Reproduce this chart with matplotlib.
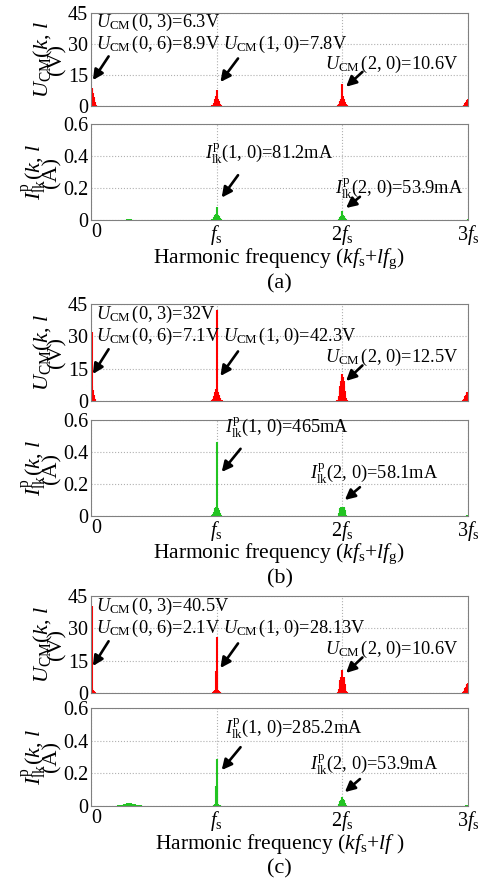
import numpy as np
import matplotlib
import matplotlib.pyplot as plt

matplotlib.use('Agg')
plt.rcParams['font.family'] = ['Liberation Serif', 'DejaVu Serif']
plt.rcParams['mathtext.fontset'] = 'custom'
plt.rcParams['mathtext.rm'] = 'Liberation Serif'
plt.rcParams['mathtext.it'] = 'Liberation Serif:italic'
plt.rcParams['mathtext.bf'] = 'Liberation Serif:bold'

ratio = 200  # fs / fg
side_l = list(range(-8, 9))   # sidebands around k*fs
dc_l = list(range(1, 9))      # baseband lines l*fg
low_l = list(range(40, 84, 3))

# ---- case (a)
ua_dc = [8.9, 8.0, 6.3, 4.5, 3.0, 2.0, 1.2, 0.6]
ua_k1 = [0.2, 0.4, 0.7, 1.1, 1.6, 2.4, 3.4, 4.6, 7.8, 4.6, 3.4, 2.4, 1.6, 1.1, 0.7, 0.4, 0.2]
ua_k2 = [0.2, 0.4, 0.8, 1.2, 1.8, 2.6, 3.6, 5.0, 10.6, 5.0, 3.6, 2.6, 1.8, 1.2, 0.8, 0.4, 0.2]
ua_k3 = [0.2, 0.4, 0.7, 1.0, 1.4, 2.0, 2.6, 3.0, 3.5, 3.0, 2.6, 2.0, 1.4, 1.0, 0.7, 0.4, 0.2]
ia_low = [0.0005, 0.001, 0.0015, 0.002, 0.0025, 0.003, 0.0035, 0.004, 0.0035, 0.003, 0.0025, 0.002, 0.0015, 0.001, 0.0005]
ia_k1 = [0.002, 0.004, 0.007, 0.011, 0.016, 0.022, 0.030, 0.040, 0.081, 0.040, 0.030, 0.022, 0.016, 0.011, 0.007, 0.004, 0.002]
ia_k2 = [0.002, 0.003, 0.005, 0.008, 0.012, 0.016, 0.022, 0.030, 0.054, 0.030, 0.022, 0.016, 0.012, 0.008, 0.005, 0.003, 0.002]
ia_k3 = [0.0, 0.0, 0.001, 0.001, 0.002, 0.002, 0.003, 0.003, 0.004, 0.003, 0.003, 0.002, 0.002, 0.001, 0.001, 0.0, 0.0]

# ---- case (b)
ub_dc = [32.0, 7.1, 5.0, 3.0, 1.5, 0.8, 0.4, 0.2]
ub_k1 = [0.3, 0.6, 1.0, 1.5, 2.2, 3.0, 4.0, 5.5, 42.3, 5.5, 4.0, 3.0, 2.2, 1.5, 1.0, 0.6, 0.3]
ub_k2 = [0.3, 0.6, 1.2, 2.5, 4.5, 7.0, 9.5, 11.0, 12.5, 11.0, 9.5, 7.0, 4.5, 2.5, 1.2, 0.6, 0.3]
ub_k3 = [0.3, 0.6, 1.0, 1.5, 2.2, 3.0, 3.6, 4.0, 4.3, 4.0, 3.6, 3.0, 2.2, 1.5, 1.0, 0.6, 0.3]
ib_low = [0.0005, 0.001, 0.0015, 0.002, 0.0025, 0.003, 0.003, 0.003, 0.003, 0.003, 0.0025, 0.002, 0.0015, 0.001, 0.0005]
ib_k1 = [0.002, 0.005, 0.010, 0.018, 0.028, 0.040, 0.050, 0.055, 0.465, 0.055, 0.050, 0.040, 0.028, 0.018, 0.010, 0.005, 0.002]
ib_k2 = [0.001, 0.003, 0.008, 0.020, 0.035, 0.048, 0.054, 0.056, 0.058, 0.056, 0.054, 0.048, 0.035, 0.020, 0.008, 0.003, 0.001]
ib_k3 = [0.0, 0.0, 0.001, 0.001, 0.002, 0.003, 0.003, 0.004, 0.004, 0.004, 0.003, 0.003, 0.002, 0.001, 0.001, 0.0, 0.0]

# ---- case (c)
uc_dc = [40.5, 2.1, 1.5, 1.0, 0.6, 0.4, 0.2, 0.1]
uc_k1 = [0.1, 0.2, 0.3, 0.5, 0.7, 1.0, 1.5, 10.0, 26.0, 10.0, 1.5, 1.0, 0.7, 0.5, 0.3, 0.2, 0.1]
uc_k2 = [0.2, 0.4, 0.9, 2.0, 4.0, 6.0, 7.2, 7.6, 10.6, 7.6, 7.2, 6.0, 4.0, 2.0, 0.9, 0.4, 0.2]
uc_k3 = [0.3, 0.6, 1.0, 1.6, 2.3, 3.0, 3.8, 4.3, 4.6, 4.3, 3.8, 3.0, 2.3, 1.6, 1.0, 0.6, 0.3]
ic_low = [0.002, 0.004, 0.006, 0.009, 0.012, 0.015, 0.018, 0.020, 0.018, 0.015, 0.012, 0.009, 0.006, 0.004, 0.002]
ic_k1 = [0.001, 0.002, 0.003, 0.004, 0.006, 0.008, 0.012, 0.120, 0.285, 0.120, 0.012, 0.008, 0.006, 0.004, 0.003, 0.002, 0.001]
ic_k2 = [0.001, 0.003, 0.006, 0.012, 0.020, 0.030, 0.038, 0.042, 0.054, 0.042, 0.038, 0.030, 0.020, 0.012, 0.006, 0.003, 0.001]
ic_k3 = [0.0, 0.001, 0.001, 0.002, 0.003, 0.004, 0.005, 0.005, 0.006, 0.005, 0.005, 0.004, 0.003, 0.002, 0.001, 0.001, 0.0]

u_ticks = [0, 15, 30, 45]
i_ticks = [0, 0.2, 0.4, 0.6]
x_ticks = [0, 1, 2, 3]
x_ticklabels = ['0', r'$f_{\mathrm{s}}$', r'$2f_{\mathrm{s}}$', r'$3f_{\mathrm{s}}$']

RED = '#ff0000'
GREEN = '#22c422'

W, H = 482, 884
fig = plt.figure(figsize=(W / 100, H / 100), dpi=100)


def add_ax(top, bottom):
    return fig.add_axes([91 / W, 1 - bottom / H, 377 / W, (bottom - top) / H])


def spectrum(dc, k1, k2, k3, low=None):
    f, a = [], []
    for l, v in zip(dc_l, dc):
        f.append(l / ratio); a.append(v)
    if low is not None:
        for l, v in zip(low_l, low):
            f.append(l / ratio); a.append(v)
    for k, arr in ((1, k1), (2, k2), (3, k3)):
        for l, v in zip(side_l, arr):
            f.append(k + l / ratio); a.append(v)
    return np.array(f), np.array(a)


def style(ax, ticks, ylim, ylabel, bottom_axis):
    ax.set_xlim(0, 3)
    ax.set_ylim(*ylim)
    ax.set_xticks(x_ticks)
    ax.set_yticks(ticks)
    ax.set_yticklabels([('%g' % t) for t in ticks])
    ax.grid(True, color='#b0b0b0', linestyle=':', linewidth=0.8)
    ax.set_axisbelow(True)
    for s in ax.spines.values():
        s.set_color('#808080')
        s.set_linewidth(0.8)
    ax.tick_params(length=0, labelsize=14.5, pad=2)
    ax.tick_params(axis='x', pad=2.5)
    if bottom_axis:
        ax.set_xticklabels(x_ticklabels)
        ax.get_xticklabels()[0].set_ha('left')
    else:
        ax.set_xticklabels([])
    ax.set_ylabel(ylabel, fontsize=16, linespacing=0.5, labelpad=1)


def arrow(ax, tail, tip):
    ax.annotate('', xy=tip, xytext=tail,
                arrowprops=dict(arrowstyle='-|>', color='k', lw=1.9, mutation_scale=15,
                                shrinkA=0, shrinkB=0))


u_lab = '$U_{\\mathrm{CM}}(k$, $l$\n(V)'
i_lab = '$I_{\\mathrm{lk}}^{\\mathrm{p}}(k$, $l$\n(A)'
ucm = r'$U_{\mathrm{CM}}\,$'
ilk = r'$I_{\mathrm{lk}}^{\mathrm{p}}$'
ann_fs = 13.2
x_mid = 0.5 * (91 + 468) / W

cases = [
    dict(px=(13, 106, 124, 220), u=(ua_dc, ua_k1, ua_k2, ua_k3), i=(ia_low, ia_k1, ia_k2, ia_k3),
         u_txt=['(0, 3)=6.3V', '(0, 6)=8.9V', '(1, 0)=7.8V', '(2, 0)=10.6V'],
         i_txt=['(1, 0)=81.2mA', '(2, 0)=53.9mA'],
         i_pos=[(0.91, 0.42), (1.94, 0.2)], i_arr=[((1.17, 0.28), (1.04, 0.14)), ((2.14, 0.145), (2.03, 0.075))],
         xlab=r'Harmonic frequency ($kf_{\mathrm{s}}$+$lf_{\mathrm{g}}$)', xlab_y=259, tag='(a)', tag_y=284),
    dict(px=(304, 401, 420, 516), u=(ub_dc, ub_k1, ub_k2, ub_k3), i=(ib_low, ib_k1, ib_k2, ib_k3),
         u_txt=['(0, 3)=32V', '(0, 6)=7.1V', '(1, 0)=42.3V', '(2, 0)=12.5V'],
         i_txt=['(1, 0)=465mA', '(2, 0)=58.1mA'],
         i_pos=[(1.07, 0.556), (1.74, 0.27)], i_arr=[((1.19, 0.42), (1.04, 0.275)), ((2.14, 0.18), (2.02, 0.1))],
         xlab=r'Harmonic frequency ($kf_{\mathrm{s}}$+$lf_{\mathrm{g}}$)', xlab_y=554, tag='(b)', tag_y=579),
    dict(px=(596, 693, 708, 806), u=(uc_dc, uc_k1, uc_k2, uc_k3), i=(ic_low, ic_k1, ic_k2, ic_k3),
         u_txt=['(0, 3)=40.5V', '(0, 6)=2.1V', '(1, 0)=28.13V', '(2, 0)=10.6V'],
         i_txt=['(1, 0)=285.2mA', '(2, 0)=53.9mA'],
         i_pos=[(1.07, 0.48), (1.74, 0.26)], i_arr=[((1.19, 0.36), (1.04, 0.22)), ((2.14, 0.165), (2.02, 0.085))],
         xlab=r'Harmonic frequency ($kf_{\mathrm{s}}$+$lf$ )', xlab_y=844, tag='(c)', tag_y=869),
]

for c in cases:
    t1, b1, t2, b2 = c['px']
    axu = add_ax(t1, b1)
    axi = add_ax(t2, b2)

    f, a = spectrum(*c['u'])
    axu.vlines(f, 0, a, color=RED, lw=1.5)
    style(axu, u_ticks, (0, 45), u_lab, False)

    ilow, ik1, ik2, ik3 = c['i']
    f, a = spectrum([0] * len(dc_l), ik1, ik2, ik3, low=ilow)
    axi.vlines(f, 0, a, color=GREEN, lw=1.5)
    style(axi, i_ticks, (0, 0.6), i_lab, True)

    # U_CM annotations
    axu.text(0.04, 40.3, ucm + c['u_txt'][0], fontsize=ann_fs, va='center', ha='left')
    axu.text(0.04, 30.0, ucm + c['u_txt'][1], fontsize=ann_fs, va='center', ha='left')
    axu.text(1.05, 30.0, ucm + c['u_txt'][2], fontsize=ann_fs, va='center', ha='left')
    axu.text(1.86, 20.3, ucm + c['u_txt'][3], fontsize=ann_fs, va='center', ha='left')
    arrow(axu, (0.14, 24), (0.015, 12.5))
    arrow(axu, (1.17, 23), (1.03, 11.6))
    arrow(axu, (2.16, 16.5), (2.03, 9.3))

    # I_lk annotations
    for (x, y), s in zip(c['i_pos'], c['i_txt']):
        axi.text(x, y, ilk + s, fontsize=ann_fs, va='center', ha='left')
    for tail, tip in c['i_arr']:
        arrow(axi, tail, tip)

    fig.text(x_mid, 1 - c['xlab_y'] / H, c['xlab'], fontsize=15.5, ha='center', va='center')
    fig.text(x_mid, 1 - c['tag_y'] / H, c['tag'], fontsize=16, ha='center', va='center')

fig.savefig('out.png', dpi=100)
